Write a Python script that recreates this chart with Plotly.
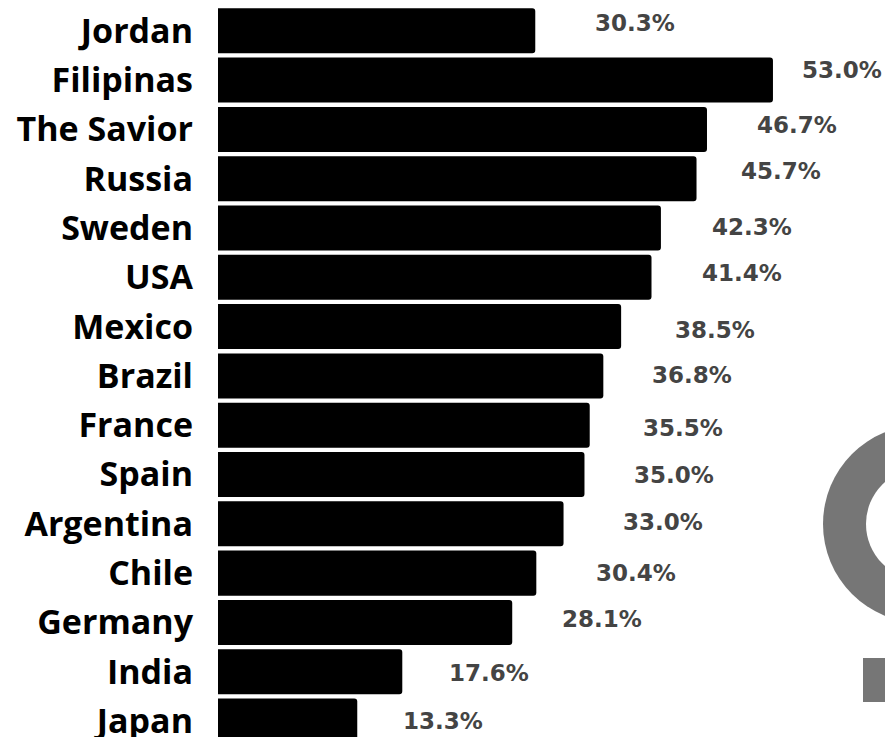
import plotly.graph_objects as go

countries = ["Jordan", "Filipinas", "The Savior", "Russia", "Sweden", "USA", "Mexico",
             "Brazil", "France", "Spain", "Argentina", "Chile", "Germany", "India", "Japan"]
values = [30.3, 53.0, 46.7, 45.7, 42.3, 41.4, 38.5, 36.8, 35.5, 35.0, 33.0, 30.4, 28.1, 17.6, 13.3]
value_labels = [f"{v:.1f}%" for v in values]

# label placement offsets (pixels) relative to bar end / bar centre
label_dx = [100, 69.5, 90, 84.5, 91, 90.5, 94, 88.5, 93.5, 89.5, 99.5, 100, 90, 87, 86]
label_dy = [-8, -10, -4, -8, -1, -4, 3, -1, 3, 0, -2, 0, -3, 1, 0]

fig = go.Figure()
fig.add_trace(go.Bar(
    x=values, y=countries, orientation="h",
    marker=dict(color="#000000", line=dict(width=0)),
    width=0.913, hoverinfo="skip",
))

for c, v, t, dx, dy in zip(countries, values, value_labels, label_dx, label_dy):
    fig.add_annotation(
        x=v, y=c, xref="x", yref="y", text=t, showarrow=False,
        xanchor="center", yanchor="middle", xshift=dx, yshift=-dy,
        font=dict(family="DejaVu Sans", size=23, color="#444444", weight="bold"),
    )

ring = "#767676"
# female symbol, partly off the right edge
fig.add_shape(type="circle", xref="paper", yref="paper", xsizemode="pixel", ysizemode="pixel",
              xanchor=1, yanchor=0, x0=37 - 99, x1=37 + 99, y0=213 - 99, y1=213 + 99,
              fillcolor=ring, line=dict(width=0), layer="below")
fig.add_shape(type="circle", xref="paper", yref="paper", xsizemode="pixel", ysizemode="pixel",
              xanchor=1, yanchor=0, x0=37 - 56, x1=37 + 56, y0=213 - 56, y1=213 + 56,
              fillcolor="#ffffff", line=dict(width=0), layer="below")
fig.add_shape(type="rect", xref="paper", yref="paper", xsizemode="pixel", ysizemode="pixel",
              xanchor=1, yanchor=0, x0=-22, x1=96, y0=35, y1=79,
              fillcolor=ring, line=dict(width=0), layer="below")

fig.update_layout(
    width=885, height=737,
    margin=dict(l=218, r=0, t=0, b=0),
    paper_bgcolor="white", plot_bgcolor="rgba(0,0,0,0)",
    barcornerradius=3,
    showlegend=False,
    xaxis=dict(range=[0, 63.7], visible=False, fixedrange=True),
    yaxis=dict(
        type="category", categoryorder="array", categoryarray=countries,
        range=[14.324, -0.625], showgrid=False, zeroline=False, showline=False,
        ticks="", ticklabelstandoff=24,
        tickfont=dict(family="Open Sans", size=34, color="#000000", weight="bold"),
        automargin=False, fixedrange=True,
    ),
)

fig.write_html(
    "out.html",
    config={"displayModeBar": False},
    post_script="document.body.style.margin='0';document.body.style.overflow='hidden';",
)
